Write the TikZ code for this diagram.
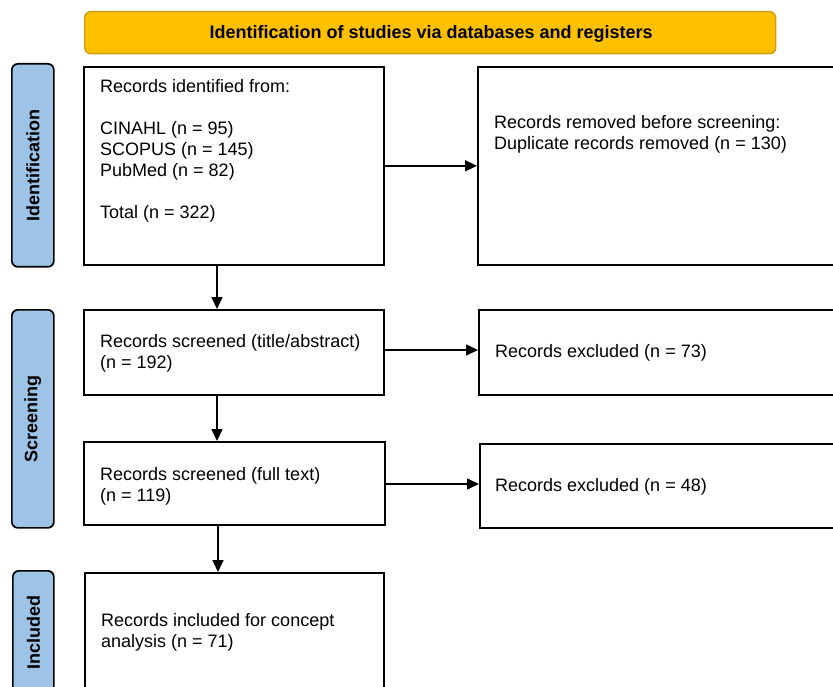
\documentclass[tikz,border=0pt]{standalone}
\usepackage{fontspec}
\setmainfont{Liberation Sans}
\usetikzlibrary{arrows.meta,calc}
\definecolor{gold}{RGB}{255,192,0}
\definecolor{goldedge}{RGB}{205,160,20}
\definecolor{sideblue}{RGB}{157,195,230}
\tikzset{
  box/.style={draw=black, line width=1.6pt, fill=white, rectangle, inner sep=0pt, anchor=north west},
  side/.style={draw=black, line width=1.7pt, fill=sideblue, rectangle, rounded corners=6pt, inner sep=0pt, anchor=north west},
  banner/.style={draw=goldedge, line width=1.4pt, fill=gold, rectangle, rounded corners=6pt, inner sep=0pt, anchor=north west},
  txt/.style={inner sep=0pt, align=left, font=\fontsize{18}{21}\selectfont},
  lab/.style={inner sep=0pt, font=\bfseries\fontsize{18}{21}\selectfont, rotate=90},
  arr/.style={line width=1.6pt, -{Triangle[length=12pt,width=11pt]}},
}
\begin{document}
\begin{tikzpicture}[x=1pt,y=-1pt]
\useasboundingbox (0,0) rectangle (833,687);
\clip (0,0) rectangle (833,687);
\fill[white] (0,0) rectangle (833,687);

% banner
\node[banner, minimum width=691, minimum height=42] (ban) at (84,11) {};
\node[inner sep=0pt, font=\bfseries\fontsize{18}{21}\selectfont] (bantxt) at ($(ban.center)+(1,1.5)$) {Identification of studies via databases and registers};

% side bars
\node[side, minimum width=42, minimum height=203] (s1) at (11,63) {};
\node[lab] (s1t) at (s1.center) {Identification};
\node[side, minimum width=42, minimum height=218] (s2) at (11,309) {};
\node[lab] (s2t) at (s2.center) {Screening};
\node[side, minimum width=41, minimum height=123] (s3) at (12,570) {};
\node[lab] (s3t) at (s3.center) {Included};

% left boxes
\node[box, minimum width=300, minimum height=198] (b1) at (83,66) {};
\node[txt, anchor=north west] (b1t) at (100,79) {Records identified from:\\[21pt]CINAHL (n = 95)\\SCOPUS (n = 145)\\PubMed (n = 82)\\[21pt]Total (n = 322)};

\node[box, minimum width=300, minimum height=85] (b2) at (83,309) {};
\node[txt, anchor=west] (b2t) at ($(b2.west)+(17,1)$) {Records screened (title/abstract)\\(n = 192)};

\node[box, minimum width=301, minimum height=83] (b3) at (83,441) {};
\node[txt, anchor=west] (b3t) at ($(b3.west)+(17,3)$) {Records screened (full text)\\(n = 119)};

\node[box, minimum width=299, minimum height=125] (b4) at (84,572) {};
\node[txt, anchor=west] (b4t) at ($(b4.north west)+(17,60)$) {Records included for concept\\analysis (n = 71)};

% right boxes
\node[box, minimum width=420, minimum height=198] (r1) at (477,66) {};
\node[txt, anchor=north west] (r1t) at (494,115) {Records removed before screening:\\Duplicate records removed (n = 130)};

\node[box, minimum width=420, minimum height=85] (r2) at (478,309) {};
\node[txt, anchor=west] (r2t) at ($(r2.west)+(17,1)$) {Records excluded (n = 73)};

\node[box, minimum width=420, minimum height=84] (r3) at (479,443) {};
\node[txt, anchor=west] (r3t) at ($(r3.west)+(16,1)$) {Records excluded (n = 48)};

% connectors
\coordinate (ax) at (217,0);
\coordinate (bx) at (218,0);
\draw[arr] (b1.east) -- (r1.west);
\draw[arr] (b2.east |- 0,350) -- (r2.west |- 0,350);
\draw[arr] (b3.east |- 0,484) -- (r3.west |- 0,484);
\draw[arr] (b1.south -| ax) -- (b2.north -| ax);
\draw[arr] (b2.south -| ax) -- (b3.north -| ax);
\draw[arr] (b3.south -| bx) -- (b4.north -| bx);
\end{tikzpicture}
\end{document}
